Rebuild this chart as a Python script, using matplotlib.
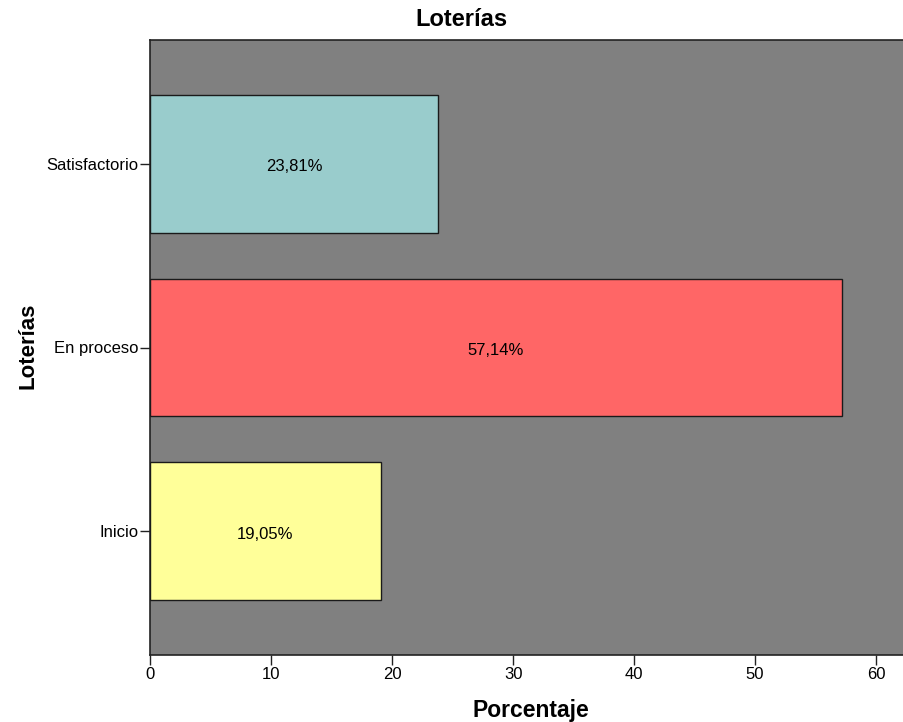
import matplotlib
matplotlib.use("Agg")
import matplotlib.pyplot as plt

categories = ["Inicio", "En proceso", "Satisfactorio"]
percentages = [19.05, 57.14, 23.81]
bar_colors = ["#FFFF99", "#FF6666", "#99CCCC"]
x_ticks = [0, 10, 20, 30, 40, 50, 60]

plt.rcParams["font.family"] = ["Liberation Sans", "DejaVu Sans"]

fig = plt.figure(figsize=(9.04, 7.22), dpi=100)
ax = fig.add_axes([150 / 904, 1 - 655 / 722, 1 - 150 / 904, (655 - 40) / 722])
ax.set_facecolor("#808080")

positions = list(range(len(categories)))
bars = ax.barh(positions, percentages, height=0.75, color=bar_colors,
               edgecolor="#1a1a1a", linewidth=1.0, zorder=3)

for pos, val in zip(positions, percentages):
    ax.text(val / 2, pos - 0.015, f"{val:.2f}%".replace(".", ","), ha="center",
            va="center", fontsize=12, color="black", zorder=4)

ax.set_xlim(0, 62.3)
ax.set_ylim(-0.672, 2.672)
ax.set_xticks(x_ticks)
ax.set_xticklabels([str(t) for t in x_ticks], fontsize=12)
ax.set_yticks(positions)
ax.set_yticklabels(categories, fontsize=12)
ax.tick_params(axis="both", length=7, width=1, color="#222222", pad=1.5)

for side in ("left", "bottom", "top"):
    ax.spines[side].set_color("#222222")
    ax.spines[side].set_linewidth(1.2)
ax.spines["right"].set_visible(False)

fig.text(461 / 904, 1 - 20 / 722, "Loterías", ha="center", va="center",
         fontsize=17, fontweight="bold")
fig.text(531 / 904, 1 - 710 / 722, "Porcentaje", ha="center", va="center",
         fontsize=16.5, fontweight="bold")
fig.text(28 / 904, 1 - 346 / 722, "Loterías", ha="center", va="center",
         rotation=90, fontsize=16, fontweight="bold")

fig.savefig("out.png", dpi=100)
